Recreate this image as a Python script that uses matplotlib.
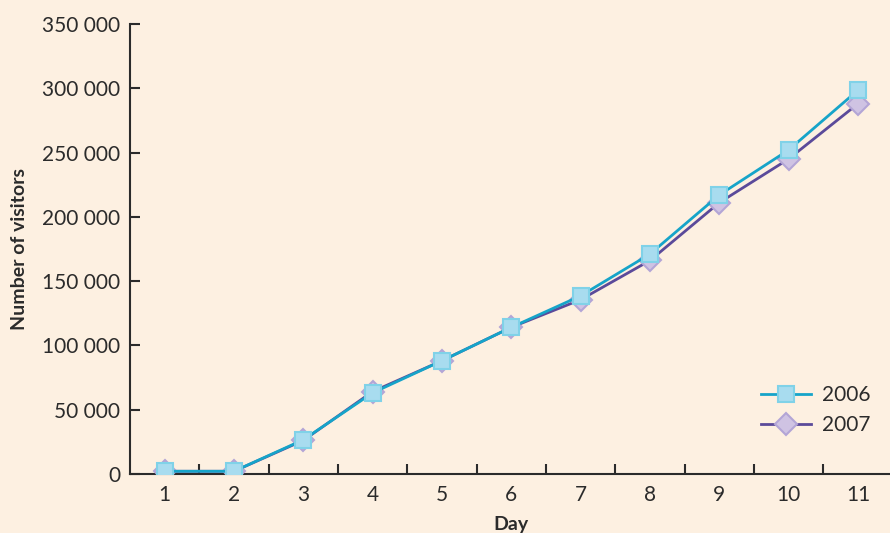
import numpy as np
import matplotlib.pyplot as plt
from matplotlib.ticker import FuncFormatter, FixedLocator

days = [1, 2, 3, 4, 5, 6, 7, 8, 9, 10, 11]
visitors_2006 = [2000, 2000, 26500, 63000, 88000, 114000, 138500, 171000, 217000, 252000, 298500]
visitors_2007 = [2000, 2000, 26000, 64000, 88000, 114000, 135500, 166000, 211000, 245000, 288000]
y_ticks = [0, 50000, 100000, 150000, 200000, 250000, 300000, 350000]

bg = '#fdf0e1'
plt.rcParams['font.family'] = ['Lato', 'DejaVu Sans']

fig = plt.figure(figsize=(8.9, 5.33), dpi=100, facecolor=bg)
ax = fig.add_axes([0.146, 0.111, 0.857, 0.844], facecolor=bg)

ax.plot(days, visitors_2007, color='#5b4a9a', lw=2, marker='D', ms=11,
        mfc='#cfc3e3', mec='#b3a5d6', mew=1.5, label='2007', zorder=3)
ax.plot(days, visitors_2006, color='#16a4c9', lw=2, marker='s', ms=11,
        mfc='#a8dcef', mec='#80d2e8', mew=1.5, label='2006', zorder=4)

ax.set_xlim(0.5, 11.5)
ax.set_ylim(0, 350000)
ax.set_yticks(y_ticks)
ax.yaxis.set_major_formatter(FuncFormatter(lambda v, p: f'{int(v):,}'.replace(',', ' ')))
ax.set_xticks(days)
ax.xaxis.set_minor_locator(FixedLocator(np.arange(1.5, 11.5, 1)))

for s in ['top', 'right']:
    ax.spines[s].set_visible(False)
for s in ['left', 'bottom']:
    ax.spines[s].set_color('#2b2b2b')
    ax.spines[s].set_linewidth(1.5)

ax.tick_params(axis='y', direction='in', length=7, width=1.5, color='#2b2b2b',
               labelsize=15, labelcolor='#2b2b2b', pad=7)
ax.tick_params(axis='x', which='major', length=0, labelsize=15, labelcolor='#2b2b2b', pad=8)
ax.tick_params(axis='x', which='minor', direction='in', length=7, width=1.5, color='#2b2b2b')

ax.set_ylabel('Number of visitors', fontsize=14, fontweight='bold', color='#2b2b2b', labelpad=10)
ax.set_xlabel('Day', fontsize=14, fontweight='bold', color='#2b2b2b', labelpad=8)

handles, labels = ax.get_legend_handles_labels()
ax.legend(handles[::-1], labels[::-1], loc='lower right', bbox_to_anchor=(0.995, 0.045),
          frameon=False, fontsize=15, handlelength=2.4, labelspacing=0.45,
          handletextpad=0.5, labelcolor='#2b2b2b')

fig.savefig('out.png', dpi=100, facecolor=bg)
